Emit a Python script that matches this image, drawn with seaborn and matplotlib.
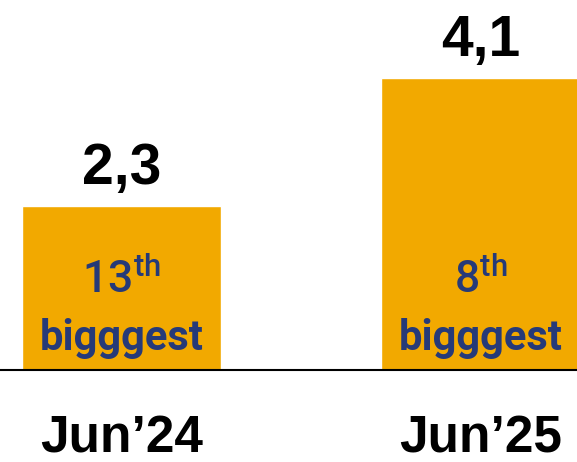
import matplotlib
matplotlib.use("Agg")
import matplotlib.pyplot as plt
import seaborn as sns
import pandas as pd

# Chart data
periods = ["Jun\u201924", "Jun\u201925"]
values = [2.3, 4.1]
ranks = ["13", "8"]
rank_suffix = "th"
rank_caption = "bigggest"

BAR_COLOR = "#F2A900"
RANK_COLOR = "#263A78"

sns.set_theme(style="white")
plt.rcParams["font.family"] = ["Liberation Sans", "DejaVu Sans"]

df = pd.DataFrame({"period": periods, "value": values})

fig = plt.figure(figsize=(5.77, 4.62), dpi=100)
ax = fig.add_axes([0, 0, 1, 1])

sns.barplot(data=df, x="period", y="value", color=BAR_COLOR, width=0.554,
            saturation=1, ax=ax)

ax.set_xlim(-0.3384, 1.2688)
ax.set_ylim(-1.292, 5.197)
ax.axis("off")
ax.axhline(0, color="black", lw=1.5, zorder=3)

PX = 72 / 100  # points per pixel

for i, (per, val, rank) in enumerate(zip(periods, values, ranks)):
    # value above the bar, decimal comma
    ax.annotate(f"{val:.1f}".replace(".", ","), xy=(i, val),
                xytext=(0, 22 * PX), textcoords="offset points",
                ha="center", va="baseline", fontsize=41, fontweight="bold",
                color="black")
    # rank inside the bar
    ax.annotate(r"$\mathregular{" + rank + "^{" + rank_suffix + "}}$",
                xy=(i, 0), xytext=(0, 77 * PX), textcoords="offset points",
                ha="center", va="baseline", fontsize=32,
                family="Roboto", fontweight="medium", color=RANK_COLOR)
    ax.annotate(rank_caption, xy=(i, 0), xytext=(0, 20 * PX),
                textcoords="offset points", ha="center", va="baseline",
                fontsize=30, family="Roboto", fontweight="bold",
                color=RANK_COLOR)
    # period label under the axis line
    ax.annotate(per, xy=(i, 0), xytext=(0, -82 * PX),
                textcoords="offset points", ha="center", va="baseline",
                fontsize=37, fontweight="bold", color="black")

fig.savefig("out.png", dpi=100)
